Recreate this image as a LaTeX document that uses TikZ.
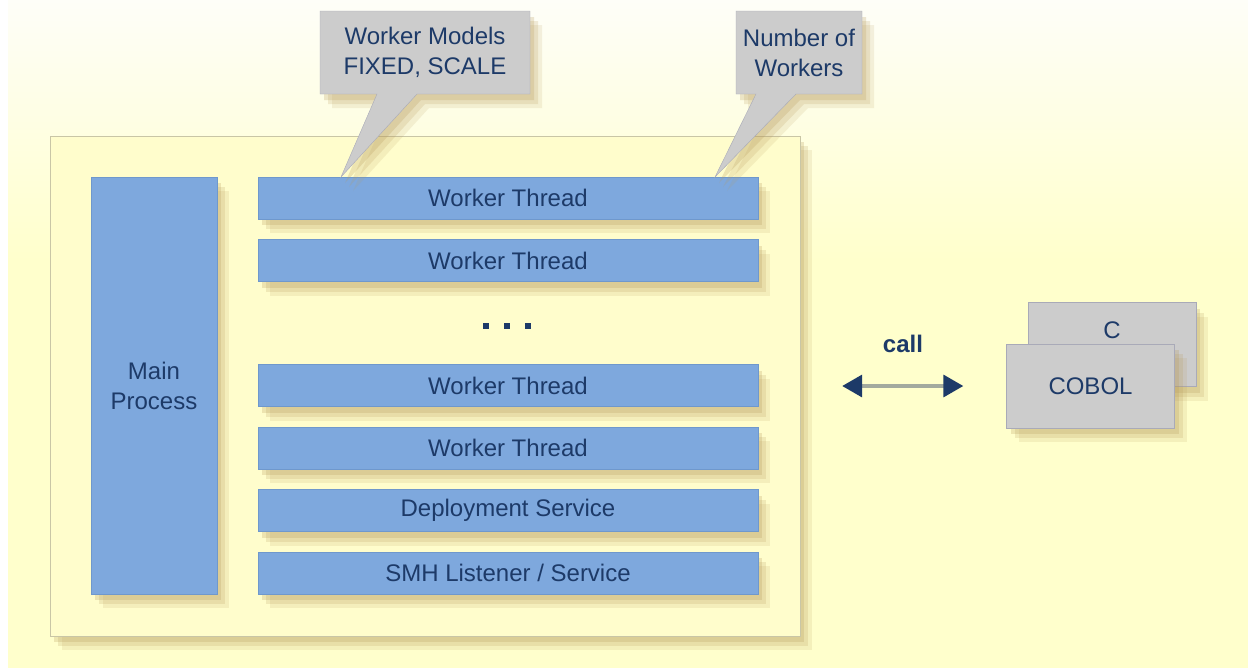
\documentclass[tikz,border=0pt]{standalone}
\usepackage{fontspec}
\setmainfont{Liberation Sans}
\usetikzlibrary{shapes.callouts,shadows,arrows.meta}
\definecolor{bgtop}{HTML}{FEFEF8}
\definecolor{bgyellow}{HTML}{FFFFCC}
\definecolor{panel}{HTML}{FFFDCC}
\definecolor{panelline}{HTML}{C9C6A6}
\definecolor{threadblue}{HTML}{7EA8DD}
\definecolor{threadline}{HTML}{6F98CC}
\definecolor{boxgray}{HTML}{CCCCCC}
\definecolor{boxline}{HTML}{A9AAB8}
\definecolor{navy}{HTML}{1D3A68}
\definecolor{shadowtan}{HTML}{B89C5E}
\definecolor{shaftgray}{HTML}{A3AA9E}
\tikzstyle{softshadow}=[drop shadow={shadow xshift=12pt,shadow yshift=-14pt,fill=shadowtan,opacity=.15},
  drop shadow={shadow xshift=8pt,shadow yshift=-10pt,fill=shadowtan,opacity=.2},
  drop shadow={shadow xshift=4pt,shadow yshift=-6pt,fill=shadowtan,opacity=.25}]
\tikzstyle{thread}=[rectangle, draw=threadline, fill=threadblue, text=navy, minimum width=500pt, minimum height=42pt, inner sep=0pt, softshadow]
\newcommand{\thread}{\node[thread]}
\tikzstyle{bubble}=[rectangle callout, draw=boxline, fill=boxgray, text=navy, align=center, minimum height=83pt, inner sep=0pt, callout pointer width=40pt, softshadow]
\newcommand{\bubble}{\node[bubble]}
\tikzstyle{langbox}=[rectangle, draw=boxline, fill=boxgray, text=navy, minimum width=168pt, minimum height=84pt, inner sep=0pt, softshadow]
\newcommand{\langbox}{\node[langbox]}

\begin{document}
\begin{tikzpicture}[x=1pt,y=-1pt,font=\fontsize{24}{30}\selectfont]
\useasboundingbox (0,0) rectangle (1248,670);
% background
\shade[top color=bgtop, bottom color=bgyellow] (8,0) rectangle (1248,260);
\fill[bgyellow] (8,260) rectangle (1248,668);
% server box
\node[draw=panelline, fill=panel, minimum width=750pt, minimum height=500pt, softshadow] (box) at (425,386) {};
\node[draw=threadline, fill=threadblue, text=navy, align=center, minimum width=126pt, minimum height=417pt, inner sep=0pt, softshadow] (main) at (154,385.5) {Main\\Process};
\thread (w1) at (508,198) {Worker Thread};
\thread (w2) at (508,260.5) {Worker Thread};
\thread (w3) at (508,385.5) {Worker Thread};
\thread (w4) at (508,448) {Worker Thread};
\thread (deploy) at (508,510.5) {Deployment Service};
\thread (smh) at (508,573) {SMH Listener / Service};
\foreach \x in {486,507,528} \fill[navy] (\x-3,323) rectangle +(6,6);
% callouts
\bubble (models) at (425,52.5)[minimum width=210pt, callout absolute pointer={(341,177)}]{Worker Models\\FIXED, SCALE};
\bubble (count) at (799,52.5)[minimum width=126pt, callout absolute pointer={(715,177)}]{Number of\\Workers};
% programs
\langbox (c) at (1112,344.5)[text depth=29pt]{C};
\langbox (cobol) at (1090.5,386){COBOL};
\node[text=navy, font=\fontsize{24}{30}\selectfont\bfseries] (call) at (903,344) {call};
\draw[shaftgray, line width=3.5pt, {Triangle[color=navy,length=20pt,width=22pt]}-{Triangle[color=navy,length=20pt,width=22pt]}, shorten <=42pt, shorten >=43pt] (box.east |- cobol) -- (cobol.west);
\end{tikzpicture}
\end{document}
